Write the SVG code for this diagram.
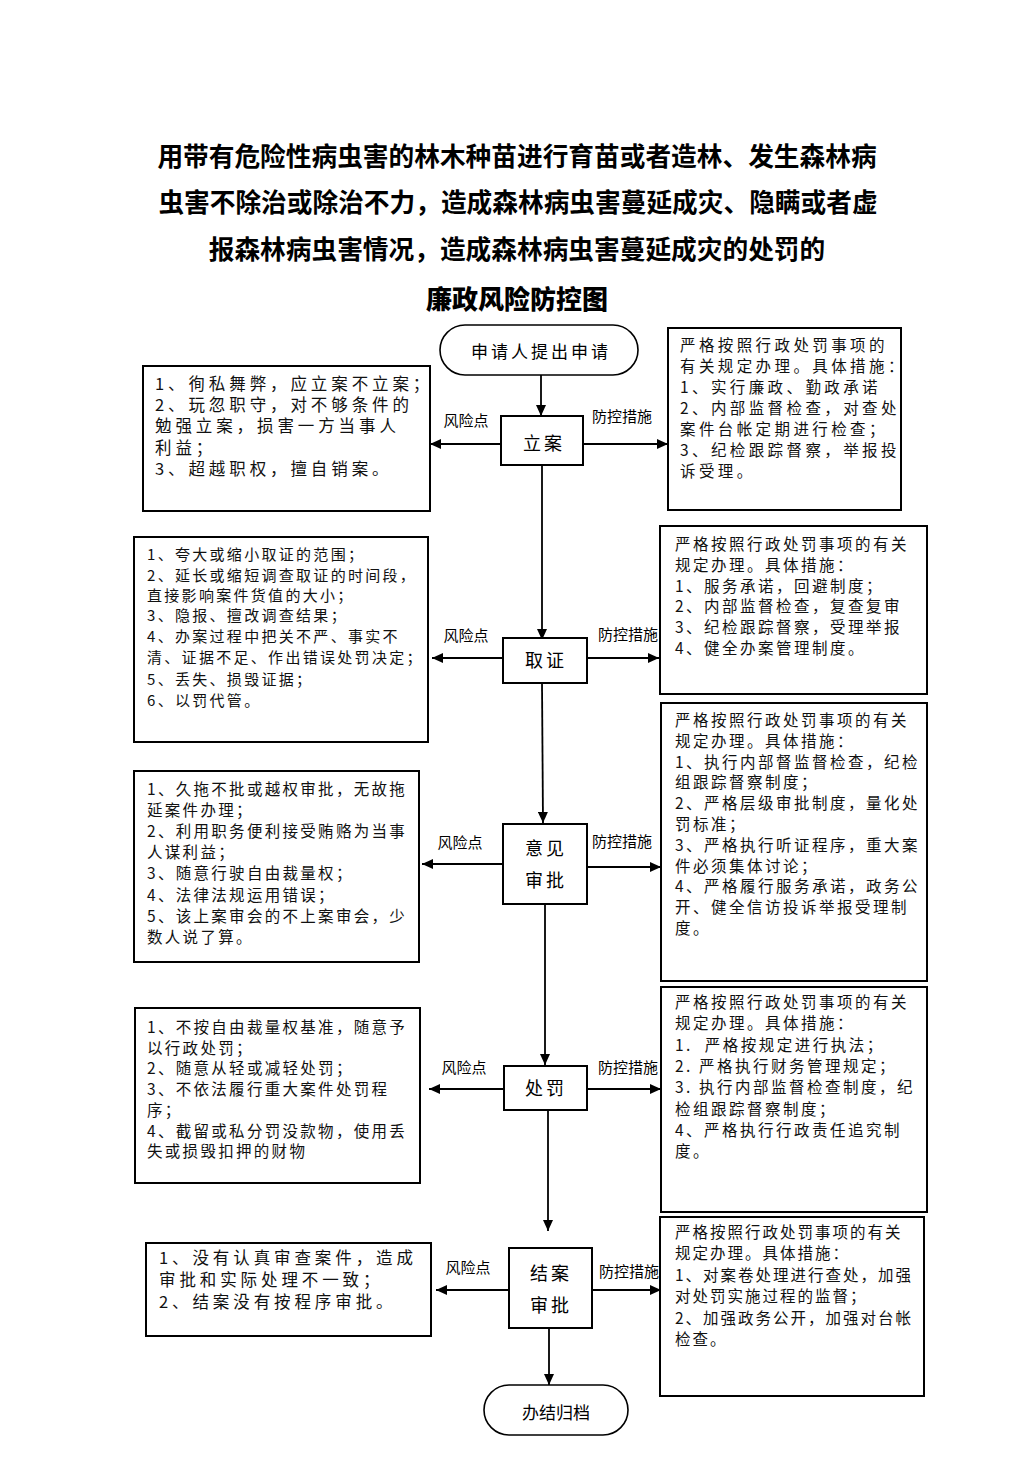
<svg xmlns="http://www.w3.org/2000/svg" width="1033" height="1461" viewBox="0 0 1033 1461">
<style>
.title{font-family:"Noto Sans CJK SC",sans-serif;font-weight:700;font-size:25.7px;fill:#000;text-anchor:middle}
.title2{font-family:"Noto Sans CJK SC",sans-serif;font-weight:900;font-size:26px;fill:#000;text-anchor:middle}
.box{fill:#fff;stroke:#000;stroke-width:2}
.pill{fill:#fff;stroke:#000;stroke-width:1.6}
.body{font-family:"Noto Sans CJK SC",sans-serif;font-size:15.5px;fill:#111;letter-spacing:2.5px}
.node{font-family:"Noto Sans CJK SC",sans-serif;font-size:18px;fill:#000;text-anchor:middle;letter-spacing:3px}
.lbl{font-family:"Noto Sans CJK SC",sans-serif;font-size:15px;fill:#000;text-anchor:middle}
.conn{stroke:#000;stroke-width:1.8;fill:none;marker-end:url(#arr)}
</style>
<defs>
<marker id="arr" markerUnits="userSpaceOnUse" markerWidth="12" markerHeight="10" refX="11" refY="5" orient="auto">
<path d="M0,0 L11,5 L0,10 z" fill="#000"/>
</marker>
</defs>
<rect width="1033" height="1461" fill="#fff"/>
<g id="title">
<text class="title" x="517" y="166">用带有危险性病虫害的林木种苗进行育苗或者造林、发生森林病</text>
<text class="title" x="518" y="212">虫害不除治或除治不力，造成森林病虫害蔓延成灾、隐瞒或者虚</text>
<text class="title" x="517" y="259">报森林病虫害情况，造成森林病虫害蔓延成灾的处罚的</text>
<text class="title2" x="517" y="309">廉政风险防控图</text>
</g>
<g id="connectors">
<line class="conn" x1="541" y1="375" x2="541" y2="416"/>
<line class="conn" x1="501" y1="444" x2="430" y2="444"/>
<line class="conn" x1="583" y1="444" x2="668" y2="444"/>
<line class="conn" x1="542" y1="465" x2="542" y2="640"/>
<line class="conn" x1="503" y1="658" x2="432" y2="658"/>
<line class="conn" x1="587" y1="658" x2="659" y2="658"/>
<line class="conn" x1="542" y1="683" x2="543" y2="823"/>
<line class="conn" x1="503" y1="864" x2="422" y2="864"/>
<line class="conn" x1="587" y1="867" x2="661" y2="867"/>
<line class="conn" x1="545" y1="904" x2="545" y2="1065"/>
<line class="conn" x1="504" y1="1089" x2="429" y2="1089"/>
<line class="conn" x1="587" y1="1089" x2="661" y2="1089"/>
<line class="conn" x1="548" y1="1110" x2="548" y2="1231"/>
<line class="conn" x1="509" y1="1290" x2="436" y2="1290"/>
<line class="conn" x1="592" y1="1290" x2="661" y2="1290"/>
<line class="conn" x1="549" y1="1328" x2="549" y2="1385"/>
<text class="lbl" x="466" y="426">风险点</text>
<text class="lbl" x="622" y="422">防控措施</text>
<text class="lbl" x="466" y="641">风险点</text>
<text class="lbl" x="628" y="640">防控措施</text>
<text class="lbl" x="460" y="848">风险点</text>
<text class="lbl" x="622" y="847">防控措施</text>
<text class="lbl" x="464" y="1073">风险点</text>
<text class="lbl" x="628" y="1073">防控措施</text>
<text class="lbl" x="468" y="1273">风险点</text>
<text class="lbl" x="629" y="1277">防控措施</text>
</g>
<g id="start">
<rect class="pill" x="440" y="325" width="198" height="50" rx="25" ry="25"/>
<text class="node" x="541" y="358" style="font-size:17px">申请人提出申请</text>
</g>
<g id="lian">
<rect class="box" x="501" y="416" width="82" height="49"/>
<text class="node" x="544" y="450">立案</text>
</g>
<g id="risk1">
<rect class="box" x="143" y="366" width="287" height="145"/>
<text class="body" style="font-size:16.5px;letter-spacing:3.9px" x="155" y="390"><tspan x="155">1、徇私舞弊，应立案不立案；</tspan><tspan x="155" dy="21.2">2、玩忽职守，对不够条件的</tspan><tspan x="155" dy="21.2">勉强立案，损害一方当事人</tspan><tspan x="155" dy="21.2">利益；</tspan><tspan x="155" dy="21.2">3、超越职权，擅自销案。</tspan></text>
</g>
<g id="ctrl1">
<rect class="box" x="668" y="328" width="233" height="182"/>
<text class="body" style="font-size:15.5px;letter-spacing:3.4px" x="680" y="351"><tspan x="680">严格按照行政处罚事项的</tspan><tspan x="680" dy="21">有关规定办理。具体措施：</tspan><tspan x="680" dy="21">1、实行廉政、勤政承诺</tspan><tspan x="680" dy="21">2、内部监督检查，对查处</tspan><tspan x="680" dy="21">案件台帐定期进行检查；</tspan><tspan x="680" dy="21">3、纪检跟踪督察，举报投</tspan><tspan x="680" dy="21">诉受理。</tspan></text>
</g>
<g id="quzheng">
<rect class="box" x="503" y="638" width="84" height="45"/>
<text class="node" x="546" y="667">取证</text>
</g>
<g id="risk2">
<rect class="box" x="134" y="537" width="294" height="205"/>
<text class="body" style="font-size:15px;letter-spacing:2.3px" x="147" y="560"><tspan x="147">1、夸大或缩小取证的范围；</tspan><tspan x="147" dy="21">2、延长或缩短调查取证的时间段，</tspan><tspan x="147" dy="20">直接影响案件货值的大小；</tspan><tspan x="147" dy="20">3、隐报、擅改调查结果；</tspan><tspan x="147" dy="21">4、办案过程中把关不严、事实不</tspan><tspan x="147" dy="21">清、证据不足、作出错误处罚决定；</tspan><tspan x="147" dy="22">5、丢失、损毁证据；</tspan><tspan x="147" dy="21">6、以罚代管。</tspan></text>
</g>
<g id="ctrl2">
<rect class="box" x="660" y="526" width="267" height="168"/>
<text class="body" x="675" y="550"><tspan x="675">严格按照行政处罚事项的有关</tspan><tspan x="675" dy="20.8">规定办理。具体措施：</tspan><tspan x="675" dy="20.8">1、服务承诺，回避制度；</tspan><tspan x="675" dy="20.8">2、内部监督检查，复查复审</tspan><tspan x="675" dy="20.8">3、纪检跟踪督察，受理举报</tspan><tspan x="675" dy="20.8">4、健全办案管理制度。</tspan></text>
</g>
<g id="yijian">
<rect class="box" x="503" y="824" width="84" height="80"/>
<text class="node" x="546" y="855" style="letter-spacing:3px">意见</text>
<text class="node" x="546" y="887" style="letter-spacing:3px">审批</text>
</g>
<g id="risk3">
<rect class="box" x="134" y="771" width="285" height="191"/>
<text class="body" style="letter-spacing:2.3px" x="147" y="795"><tspan x="147">1、久拖不批或越权审批，无故拖</tspan><tspan x="147" dy="21.1">延案件办理；</tspan><tspan x="147" dy="21.1">2、利用职务便利接受贿赂为当事</tspan><tspan x="147" dy="21.1">人谋利益；</tspan><tspan x="147" dy="21.1">3、随意行驶自由裁量权；</tspan><tspan x="147" dy="21.1">4、法律法规运用错误；</tspan><tspan x="147" dy="21.1">5、该上案审会的不上案审会，少</tspan><tspan x="147" dy="21.1">数人说了算。</tspan></text>
</g>
<g id="ctrl3">
<rect class="box" x="661" y="703" width="266" height="278"/>
<text class="body" x="675" y="726"><tspan x="675">严格按照行政处罚事项的有关</tspan><tspan x="675" dy="20.8">规定办理。具体措施：</tspan><tspan x="675" dy="20.8">1、执行内部督监督检查，纪检</tspan><tspan x="675" dy="20.8">组跟踪督察制度；</tspan><tspan x="675" dy="20.8">2、严格层级审批制度，量化处</tspan><tspan x="675" dy="20.8">罚标准；</tspan><tspan x="675" dy="20.8">3、严格执行听证程序，重大案</tspan><tspan x="675" dy="20.8">件必须集体讨论；</tspan><tspan x="675" dy="20.8">4、严格履行服务承诺，政务公</tspan><tspan x="675" dy="20.8">开、健全信访投诉举报受理制</tspan><tspan x="675" dy="20.8">度。</tspan></text>
</g>
<g id="chufa">
<rect class="box" x="504" y="1066" width="83" height="44"/>
<text class="node" x="546" y="1095">处罚</text>
</g>
<g id="risk4">
<rect class="box" x="135" y="1008" width="285" height="175"/>
<text class="body" style="letter-spacing:2.3px" x="147" y="1033"><tspan x="147">1、不按自由裁量权基准，随意予</tspan><tspan x="147" dy="20.7">以行政处罚；</tspan><tspan x="147" dy="20.7">2、随意从轻或减轻处罚；</tspan><tspan x="147" dy="20.7">3、不依法履行重大案件处罚程</tspan><tspan x="147" dy="20.7">序；</tspan><tspan x="147" dy="20.7">4、截留或私分罚没款物，使用丢</tspan><tspan x="147" dy="20.7">失或损毁扣押的财物</tspan></text>
</g>
<g id="ctrl4">
<rect class="box" x="661" y="987" width="266" height="225"/>
<text class="body" x="675" y="1008"><tspan x="675">严格按照行政处罚事项的有关</tspan><tspan x="675" dy="21.3">规定办理。具体措施：</tspan><tspan x="675" dy="21.3">1.&#160;&#160;严格按规定进行执法；</tspan><tspan x="675" dy="21.3">2. 严格执行财务管理规定；</tspan><tspan x="675" dy="21.3">3. 执行内部监督检查制度，纪</tspan><tspan x="675" dy="21.3">检组跟踪督察制度；</tspan><tspan x="675" dy="21.3">4、严格执行行政责任追究制</tspan><tspan x="675" dy="21.3">度。</tspan></text>
</g>
<g id="jiean">
<rect class="box" x="509" y="1248" width="83" height="80"/>
<text class="node" x="551" y="1280" style="letter-spacing:3px">结案</text>
<text class="node" x="551" y="1312" style="letter-spacing:3px">审批</text>
</g>
<g id="risk5">
<rect class="box" x="146" y="1243" width="285" height="93"/>
<text class="body" style="font-size:16.5px;letter-spacing:3.9px" x="159" y="1264"><tspan x="159">1、没有认真审查案件，造成</tspan><tspan x="159" dy="22">审批和实际处理不一致；</tspan><tspan x="159" dy="22">2、结案没有按程序审批。</tspan></text>
</g>
<g id="ctrl5">
<rect class="box" x="660" y="1217" width="264" height="179"/>
<text class="body" style="letter-spacing:2px" x="675" y="1238"><tspan x="675">严格按照行政处罚事项的有关</tspan><tspan x="675" dy="21.4">规定办理。具体措施：</tspan><tspan x="675" dy="21.4">1、对案卷处理进行查处，加强</tspan><tspan x="675" dy="21.4">对处罚实施过程的监督；</tspan><tspan x="675" dy="21.4">2、加强政务公开，加强对台帐</tspan><tspan x="675" dy="21.4">检查。</tspan></text>
</g>
<g id="end">
<rect class="pill" x="484" y="1385" width="144" height="50" rx="25" ry="25"/>
<text class="node" x="556" y="1419" style="font-size:17px;letter-spacing:0px">办结归档</text>
</g>
</svg>
